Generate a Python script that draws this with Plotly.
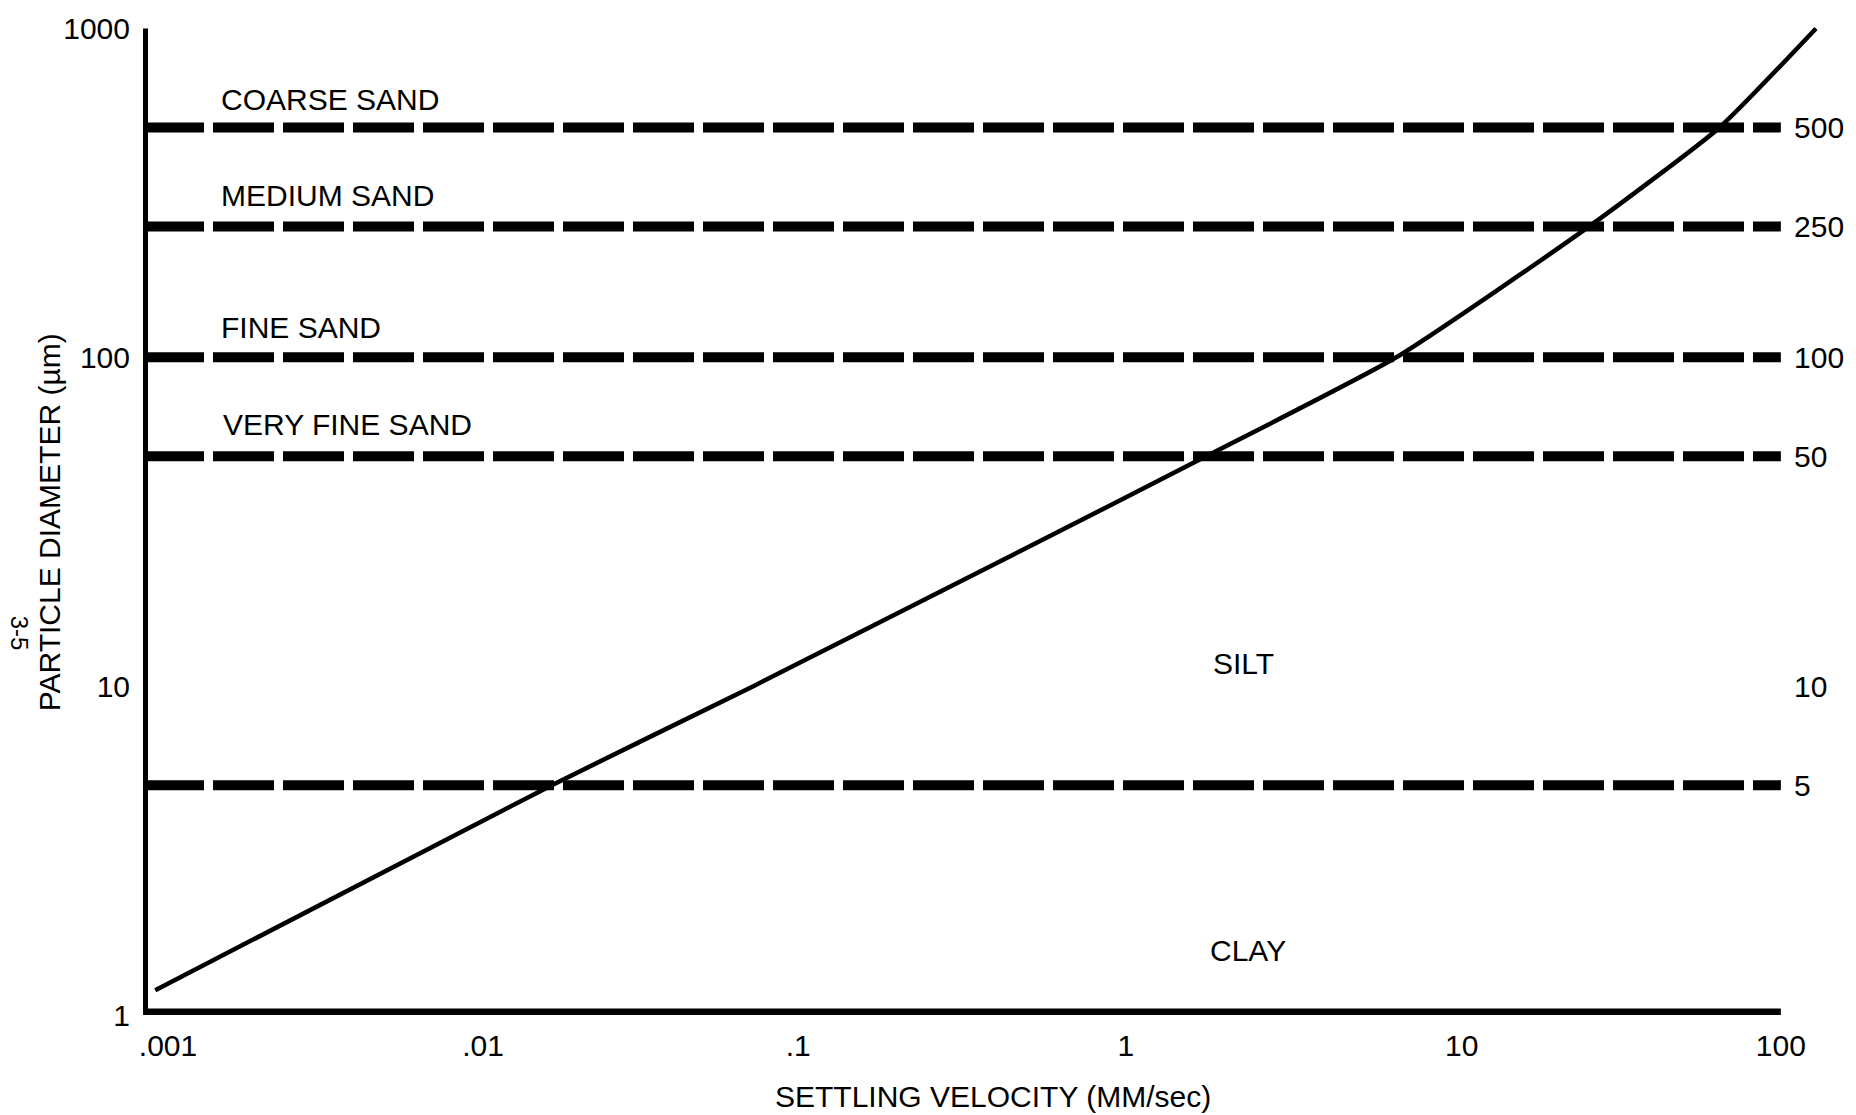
import plotly.graph_objects as go

# ---------------- data ----------------
velocity = [0.00109, 0.0177, 0.073, 0.45, 1.76, 6.7, 26, 65, 128]   # mm/sec
diameter = [1.19, 5, 10, 25, 50, 100, 250, 500, 1000]              # µm
class_bounds = [500, 250, 100, 50, 5]                                # µm (dashed boundaries)
class_names = ["COARSE SAND", "MEDIUM SAND", "FINE SAND", "VERY FINE SAND", "SILT", "CLAY"]
x_ticks = [0.001, 0.01, 0.1, 1, 10, 100]
x_ticktext = [".001", ".01", ".1", "1", "10", "100"]
y_ticks = [1, 10, 100, 1000]
y_ticktext = ["1", "10", "100", "1000"]
right_ticks = [500, 250, 100, 50, 10, 5]
right_ticktext = ["500", "250", "100", "50", "10", "5"]

# ---------------- layout geometry (pixels) ----------------
W, H = 1856, 1115
L, R, T, B = 143, 22, 12, 100
PW, PH = W - L - R, H - T - B
FONT = "Liberation Sans, Arial, Helvetica, sans-serif"
BLACK = "#000000"


def px_x(px):
    return (px - L) / PW


def px_y(py):
    return (H - B - py) / PH


# label anchor positions in pixels (x, y, xanchor)
label_pos = [
    (219, 100, "left"),
    (219, 196, "left"),
    (219, 327, "left"),
    (221, 424, "left"),
    (1246, 663, "center"),
    (1251, 950, "center"),
]
# tick label padding (leading no-break spaces) to mimic hand-lettered offsets
x_pad = [6, 3, 0, 0, 2, 0]

fig = go.Figure()

# class boundary dashed lines (on right-hand axis, same scale)
for b in class_bounds:
    fig.add_trace(go.Scatter(
        x=[x_ticks[0], x_ticks[-1]], y=[b, b], mode="lines",
        line=dict(color=BLACK, width=10, dash="61px,9px"),
        yaxis="y2", hoverinfo="skip", showlegend=False))

# settling-velocity curve
fig.add_trace(go.Scatter(
    x=velocity, y=diameter, mode="lines",
    line=dict(color=BLACK, width=4.5, shape="spline", smoothing=0.5),
    showlegend=False))

# heavy axes
fig.add_trace(go.Scatter(
    x=[x_ticks[0], x_ticks[0]], y=[y_ticks[0], y_ticks[-1]], mode="lines",
    line=dict(color=BLACK, width=10), hoverinfo="skip", showlegend=False))
fig.add_trace(go.Scatter(
    x=[x_ticks[0], x_ticks[-1]], y=[y_ticks[0], y_ticks[0]], mode="lines",
    line=dict(color=BLACK, width=13), hoverinfo="skip", showlegend=False))

annotations = []
for name, (px, py, xa) in zip(class_names, label_pos):
    annotations.append(dict(
        text=name, x=px_x(px), y=px_y(py), xref="paper", yref="paper",
        xanchor=xa, yanchor="middle", showarrow=False,
        font=dict(family=FONT, size=30, color=BLACK)))

annotations.append(dict(
    text="SETTLING VELOCITY (MM/sec)", x=px_x(995), y=px_y(1096),
    xref="paper", yref="paper", xanchor="center", yanchor="middle",
    showarrow=False, font=dict(family=FONT, size=30, color=BLACK)))
annotations.append(dict(
    text="PARTICLE DIAMETER (µm)", x=px_x(49), y=px_y(713),
    xref="paper", yref="paper", xanchor="center", yanchor="bottom",
    textangle=-90, showarrow=False, font=dict(family=FONT, size=30, color=BLACK)))
annotations.append(dict(
    text="3-5", x=px_x(20), y=px_y(633),
    xref="paper", yref="paper", xanchor="center", yanchor="middle",
    textangle=90, showarrow=False, font=dict(family=FONT, size=24, color=BLACK)))

fig.update_layout(
    width=W, height=H,
    margin=dict(l=L, r=R, t=T, b=B, pad=0),
    paper_bgcolor="white", plot_bgcolor="white",
    font=dict(family=FONT, size=30, color=BLACK),
    showlegend=False,
    annotations=annotations,
    xaxis=dict(
        type="log", range=[-3, 2.15], domain=[0, 1],
        tickvals=x_ticks,
        ticktext=["\u00a0" * p + t for p, t in zip(x_pad, x_ticktext)],
        showgrid=False, zeroline=False, showline=False, ticks="",
        ticklabelstandoff=10,
        tickfont=dict(family=FONT, size=30, color=BLACK)),
    yaxis=dict(
        type="log", range=[0, 3.05],
        tickvals=y_ticks, ticktext=y_ticktext,
        showgrid=False, zeroline=False, showline=False, ticks="",
        ticklabelstandoff=12,
        tickfont=dict(family=FONT, size=30, color=BLACK)),
    yaxis2=dict(
        type="log", range=[0, 3.05], overlaying="y", anchor="free",
        position=px_x(1785), side="right",
        tickvals=right_ticks, ticktext=right_ticktext,
        showgrid=False, zeroline=False, showline=False, ticks="",
        ticklabelstandoff=12,
        tickfont=dict(family=FONT, size=30, color=BLACK)),
)

fig.write_html("out.html",
               config={"displayModeBar": False},
               post_script="document.body.style.margin='0px';document.body.style.overflow='hidden';")
